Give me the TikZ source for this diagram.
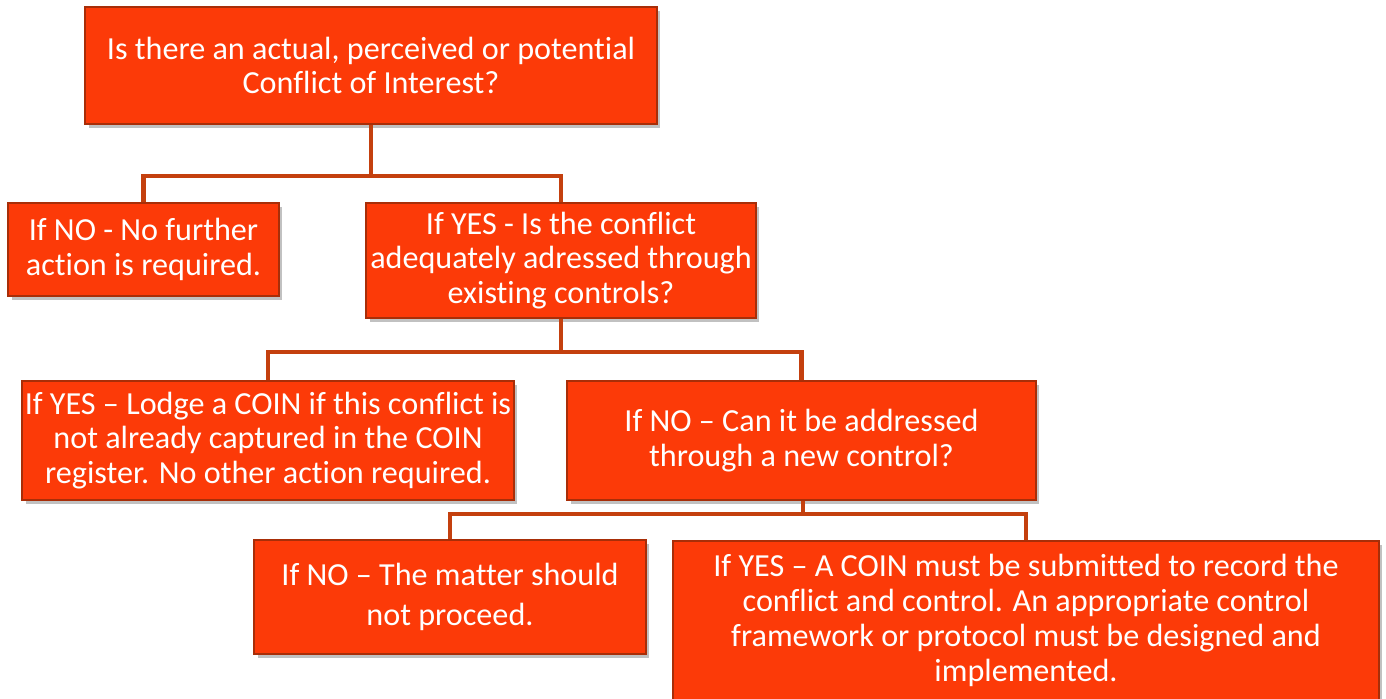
\documentclass[tikz,border=0pt]{standalone}
\usepackage{fontspec}
\setmainfont[Ligatures=NoCommon]{Carlito}
\usetikzlibrary{shadows}
\definecolor{boxfill}{HTML}{FC3A08}
\definecolor{boxedge}{HTML}{A82E08}
\definecolor{linkc}{HTML}{C4400E}
\begin{document}
\begin{tikzpicture}[x=0.02cm,y=-0.02cm,
  box/.style={draw=boxedge, line width=0.9pt, fill=boxfill, inner sep=0pt, align=center,
    text=white, font=\fontsize{18.3}{19.8}\selectfont,
    drop shadow={opacity=0.35, shadow xshift=2pt, shadow yshift=-2.5pt, fill=black!70}},
  link/.style={draw=linkc, line width=2.8pt}]
\useasboundingbox (0,0) rectangle (1386,698);
\node[box, minimum width=11.44cm, minimum height=2.34cm] (b1) at (371,65.5)
  {Is there an actual, perceived or potential\\Conflict of Interest?};
\node[box, minimum width=5.42cm, minimum height=1.86cm] (b2) at (143.5,249.5)
  {If NO - No further\\action is required.};
\node[box, minimum width=7.8cm, minimum height=2.3cm] (b3) at (561,260.5)
  {If YES - Is the conflict\\adequately adressed through\\existing controls?};
\node[box, minimum width=9.84cm, minimum height=2.38cm] (b4) at (268,440.5)
  {If YES – Lodge a COIN if this conflict is\\not already captured in the COIN\\register. No other action required.};
\node[box, minimum width=9.38cm, minimum height=2.38cm] (b5) at (801.5,440.5)
  {If NO – Can it be addressed\\through a new control?};
\node[box, minimum width=7.84cm, minimum height=2.28cm,
  font=\fontsize{18.3}{22.7}\selectfont] (b6) at (450,597)
  {If NO – The matter should\\not proceed.};
\node[box, minimum width=14.12cm, minimum height=3.18cm] (b7) at (1026,620.5)
  {If YES – A COIN must be submitted to record the\\conflict and control. An appropriate control\\framework or protocol must be designed and\\implemented.};
\coordinate (j1) at (371,176);
\coordinate (j2) at (561,352);
\coordinate (j3) at (803,514);
\draw[link] (b1.south) -- (j1);
\draw[link] (b2.north) |- (j1) -| (b3.north);
\draw[link] (b3.south) -- (j2);
\draw[link] (b4.north) |- (j2) -| (b5.north);
\draw[link] (b5.south -| j3) -- (j3);
\draw[link] (b6.north) |- (j3) -| (b7.north);
\end{tikzpicture}
\end{document}
